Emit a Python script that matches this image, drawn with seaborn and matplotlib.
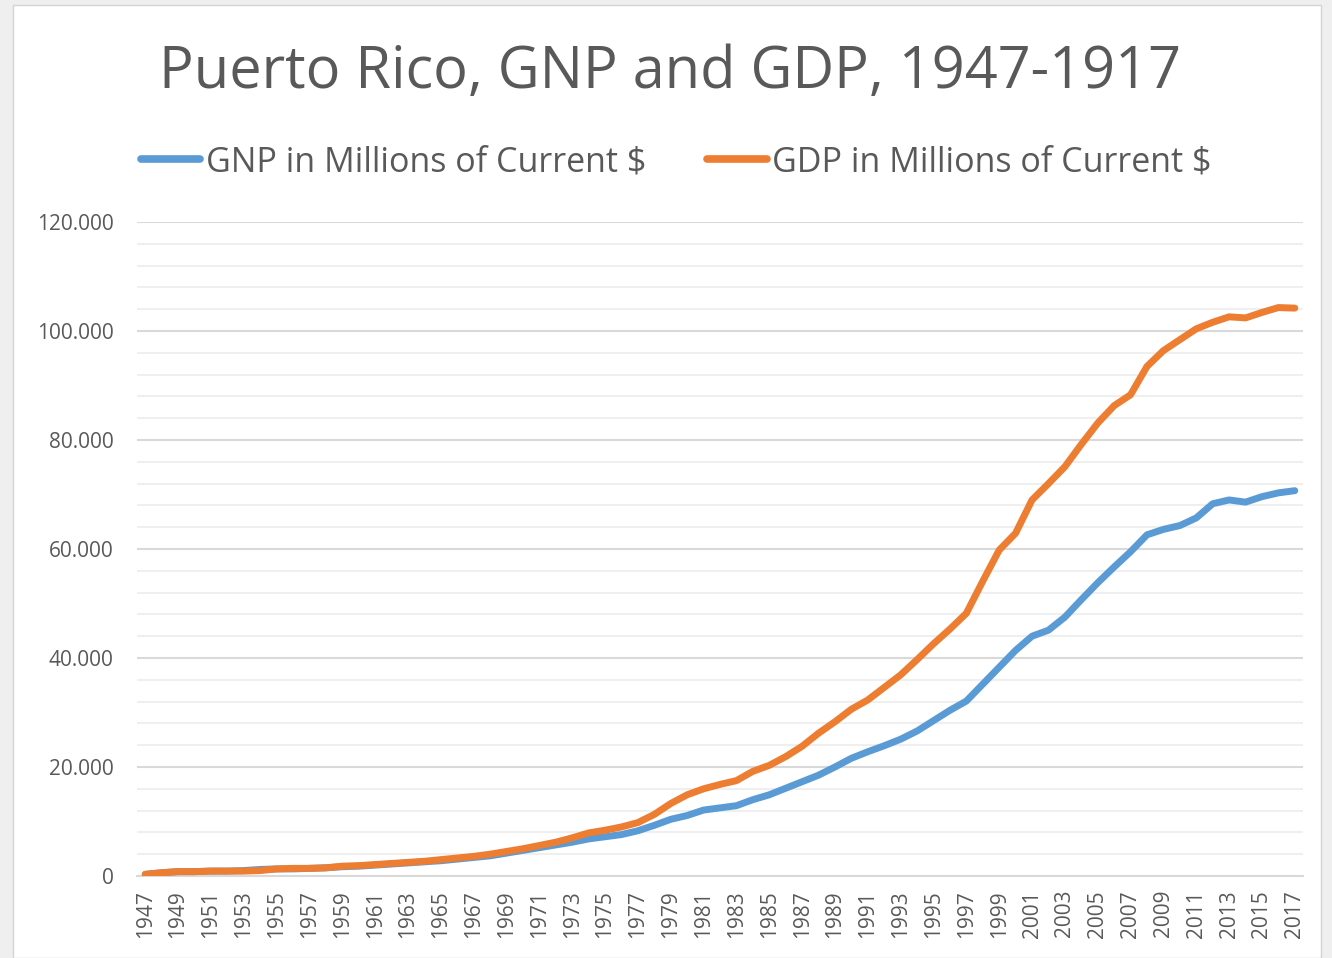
import numpy as np
import pandas as pd
import matplotlib
matplotlib.use('Agg')
import matplotlib.pyplot as plt
from matplotlib.patches import Rectangle
from matplotlib.ticker import MultipleLocator, FuncFormatter
import seaborn as sns

# ── Data (millions of current $) ─────────────────────────────────────────
years = list(range(1947, 2018))

gnp = [300, 600, 800, 800, 900, 900, 1000, 1200, 1300, 1300,
       1400, 1500, 1700, 1800, 2000, 2200, 2400, 2600, 2800, 3100,
       3400, 3700, 4200, 4700, 5200, 5700, 6200, 6800, 7200, 7600,
       8300, 9300, 10400, 11100, 12100, 12500, 12900, 14000, 14900, 16100,
       17300, 18500, 20000, 21600, 22800, 23900, 25100, 26600, 28500, 30400,
       32100, 35200, 38300, 41400, 44000, 45100, 47500, 50700, 53800, 56700,
       59500, 62600, 63600, 64300, 65700, 68300, 69000, 68600, 69600, 70300,
       70700]

gdp = [300, 600, 800, 800, 900, 900, 900, 1000, 1300, 1400,
       1400, 1500, 1800, 1900, 2100, 2300, 2500, 2700, 3000, 3300,
       3600, 4000, 4500, 5000, 5600, 6200, 7000, 7900, 8400, 9000,
       9800, 11300, 13300, 14900, 16000, 16800, 17500, 19200, 20300, 21900,
       23800, 26200, 28300, 30600, 32300, 34600, 36900, 39700, 42600, 45300,
       48200, 54100, 59800, 62900, 69000, 72000, 75100, 79200, 83100, 86300,
       88300, 93500, 96400, 98400, 100400, 101600, 102600, 102400, 103400, 104300,
       104200]

series_names = ['GNP in Millions of Current $', 'GDP in Millions of Current $']
palette = {series_names[0]: '#5B9BD5', series_names[1]: '#ED7D31'}

df = pd.DataFrame({
    'year': years * 2,
    'value': gnp + gdp,
    'series': [series_names[0]] * len(years) + [series_names[1]] * len(years),
})

# ── Style ────────────────────────────────────────────────────────────────
sns.set_style('white')
plt.rcParams['font.family'] = ['Open Sans', 'DejaVu Sans']
text_grey = '#595959'

fig = plt.figure(figsize=(13.32, 9.58), dpi=100, facecolor='#efefef')
# white chart card inside the grey screenshot frame
fig.patches.append(Rectangle((13 / 1332, 0), 1308 / 1332, 953 / 958,
                             transform=fig.transFigure, facecolor='white',
                             edgecolor='#d4d4d4', lw=1, zorder=-5))

ax = fig.add_axes([137 / 1332, 1 - 876 / 958, 1166 / 1332, 654 / 958])
ax.set_facecolor('none')

sns.lineplot(data=df, x='year', y='value', hue='series', palette=palette,
             linewidth=5, ax=ax, solid_capstyle='round',
             solid_joinstyle='round', zorder=3)

ax.set_xlim(1946.5, 2017.5)
ax.set_ylim(0, 120000)
ax.yaxis.set_major_locator(MultipleLocator(20000))
ax.yaxis.set_minor_locator(MultipleLocator(4000))
ax.yaxis.set_major_formatter(FuncFormatter(lambda v, p: f'{v:,.0f}'.replace(',', '.')))
ax.grid(which='major', axis='y', color='#d9d9d9', lw=1.5)
ax.grid(which='minor', axis='y', color='#efefef', lw=1.5)
ax.grid(which='major', axis='x', visible=False)
ax.set_axisbelow(True)

ax.set_xticks(years[::2])
ax.set_xticklabels([str(y) for y in years[::2]], rotation=90)
ax.tick_params(axis='both', which='both', length=0, labelsize=15, colors=text_grey)
ax.tick_params(axis='y', pad=17)
ax.tick_params(axis='x', pad=10)
ax.set_xlabel('')
ax.set_ylabel('')
for side in ['top', 'right', 'left']:
    ax.spines[side].set_visible(False)
ax.spines['bottom'].set_color('#d9d9d9')
ax.spines['bottom'].set_linewidth(1.5)

fig.text(0.503, 1 - 73 / 958, 'Puerto Rico, GNP and GDP, 1947-1917',
         ha='center', va='center', fontsize=41.5, color=text_grey)

leg = ax.legend(loc='center', bbox_to_anchor=(676 / 1332, 1 - 162 / 958),
                bbox_transform=fig.transFigure, ncol=2, frameon=False,
                fontsize=24.5, handlelength=1.75, handletextpad=0.15,
                columnspacing=1.8)
for t in leg.get_texts():
    t.set_color(text_grey)
for h in leg.get_lines():
    h.set_linewidth(5.5)

plt.savefig('out.png', dpi=100, facecolor=fig.get_facecolor())
